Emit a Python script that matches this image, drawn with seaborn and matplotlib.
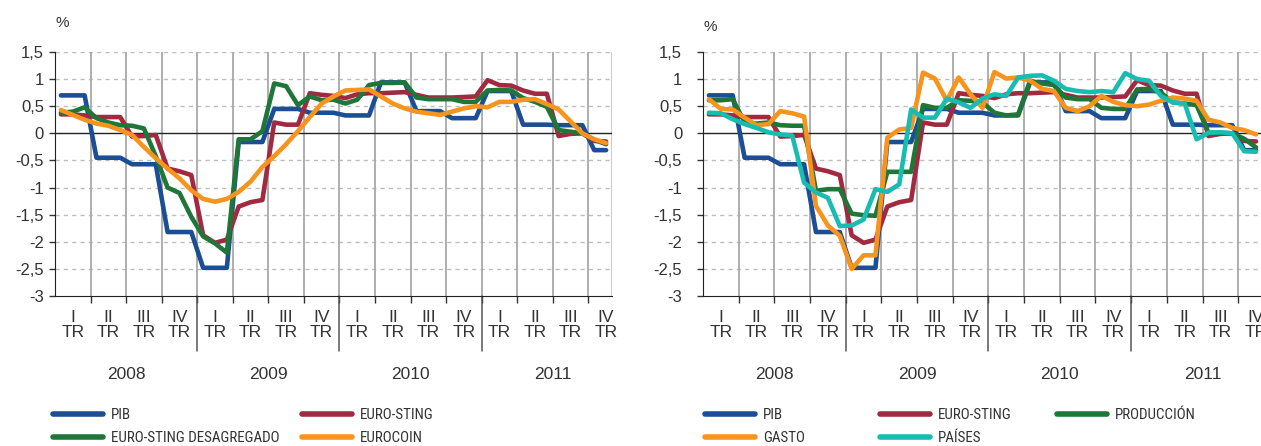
import numpy as np
import pandas as pd
import seaborn as sns
import matplotlib.pyplot as plt
import matplotlib.transforms as mtransforms
from matplotlib import font_manager
from matplotlib.textpath import TextPath

# monthly data, Jan 2008 .. Nov 2011 (47 months)
pib_trim = [0.70, -0.45, -0.57, -1.82, -2.48, -0.16, 0.45, 0.38,
            0.33, 0.94, 0.41, 0.28, 0.78, 0.16, 0.15, -0.31]

euro_sting = [0.35, 0.35, 0.33, 0.30, 0.30, 0.30, -0.06, -0.05, -0.03,
              -0.65, -0.70, -0.77, -1.88, -2.02, -1.96, -1.35, -1.27, -1.23,
              0.20, 0.16, 0.16, 0.74, 0.71, 0.69, 0.65, 0.72, 0.74,
              0.74, 0.75, 0.76, 0.71, 0.66, 0.66, 0.66, 0.67, 0.68,
              0.98, 0.89, 0.88, 0.79, 0.73, 0.73, -0.05, -0.01, 0.00, -0.14, -0.15]

desagregado = [0.38, 0.40, 0.48, 0.28, 0.20, 0.15, 0.14, 0.09, -0.42,
               -1.00, -1.10, -1.54, -1.90, -2.03, -2.20, -0.11, -0.11, 0.04,
               0.92, 0.87, 0.52, 0.68, 0.61, 0.62, 0.55, 0.62, 0.89,
               0.93, 0.93, 0.94, 0.66, 0.63, 0.63, 0.63, 0.58, 0.58,
               0.79, 0.80, 0.79, 0.65, 0.58, 0.49, 0.06, 0.03, 0.00, -0.12, -0.20]

eurocoin = [0.43, 0.34, 0.25, 0.18, 0.14, 0.06, -0.03, -0.25, -0.46,
            -0.65, -0.83, -1.05, -1.21, -1.26, -1.21, -1.08, -0.89, -0.62,
            -0.42, -0.20, 0.04, 0.30, 0.55, 0.68, 0.79, 0.80, 0.81,
            0.68, 0.55, 0.46, 0.40, 0.37, 0.34, 0.40, 0.46, 0.50,
            0.48, 0.58, 0.58, 0.62, 0.63, 0.54, 0.44, 0.22, 0.00, -0.11, -0.18]

produccion = [0.61, 0.61, 0.63, 0.20, 0.18, 0.20, 0.15, 0.14, 0.14,
              -1.06, -1.03, -1.03, -1.48, -1.51, -1.52, -0.71, -0.71, -0.71,
              0.52, 0.47, 0.47, 0.61, 0.60, 0.57, 0.38, 0.33, 0.35,
              0.97, 0.92, 0.89, 0.66, 0.63, 0.63, 0.47, 0.45, 0.45,
              0.81, 0.82, 0.75, 0.57, 0.55, 0.52, 0.01, 0.01, 0.00, -0.10, -0.26]

gasto = [0.63, 0.45, 0.44, 0.29, 0.15, 0.17, 0.41, 0.37, 0.31,
         -1.34, -1.70, -1.89, -2.50, -2.25, -2.25, -0.08, 0.07, 0.10,
         1.12, 1.01, 0.60, 1.03, 0.72, 0.47, 1.13, 1.01, 1.03,
         0.97, 0.82, 0.78, 0.47, 0.41, 0.50, 0.69, 0.58, 0.52,
         0.50, 0.53, 0.60, 0.66, 0.64, 0.60, 0.25, 0.20, 0.10, 0.06, -0.02]

paises = [0.38, 0.37, 0.26, 0.17, 0.10, 0.02, -0.02, -0.04, -0.91,
          -1.09, -1.19, -1.71, -1.70, -1.59, -1.03, -1.08, -0.94, 0.44,
          0.29, 0.29, 0.64, 0.57, 0.47, 0.64, 0.72, 0.69, 1.03,
          1.06, 1.07, 0.97, 0.82, 0.78, 0.76, 0.78, 0.76, 1.11,
          1.00, 0.97, 0.69, 0.57, 0.55, -0.11, 0.01, 0.02, 0.00, -0.33, -0.34]

n_meses = 47
pib = np.repeat(pib_trim, 3)[:n_meses]
meses = np.arange(n_meses)

trimestres = ['I', 'II', 'III', 'IV']
anios = ['2008', '2009', '2010', '2011']
y_ticks = [-3, -2.5, -2, -1.5, -1, -0.5, 0, 0.5, 1, 1.5]

colores = {'PIB': '#1b4e94', 'EURO-STING': '#a12a40',
           'EURO-STING DESAGREGADO': '#1f7638', 'EUROCOIN': '#f7941e',
           'PRODUCCIÓN': '#1f7638', 'GASTO': '#f7941e', 'PAÍSES': '#19bcb1'}

izq = {'PIB': pib, 'EURO-STING': euro_sting,
       'EURO-STING DESAGREGADO': desagregado, 'EUROCOIN': eurocoin}
der = {'PIB': pib, 'EURO-STING': euro_sting, 'PRODUCCIÓN': produccion,
       'GASTO': gasto, 'PAÍSES': paises}

sns.set_style('white')
plt.rcParams['font.family'] = ['Liberation Sans', 'DejaVu Sans']

# legend font: a narrow/condensed sans if one is installed
prefer = ['liberation sans narrow', 'roboto condensed', 'open sans condensed',
          'noto sans', 'open sans', 'roboto', 'lato', 'dejavu sans']


def es_estrecha(f):
    n = f.name.lower()
    fn = f.fname.lower()
    cond = ('narrow' in n or 'condensed' in n or 'condensed' in fn
            or str(f.stretch) in ('condensed', 'semi-condensed'))
    w = str(f.weight).lower()
    normal = w in ('400', 'normal', 'regular', 'book') and f.style == 'normal'
    bad = any(k in fn for k in ['bold', 'light', 'thin', 'medium', 'black', 'semi', 'extra', 'italic'])
    return cond and normal and not bad


cands = [f for f in font_manager.fontManager.ttflist if es_estrecha(f)]


def rango(f):
    n = f.name.lower()
    for i, p in enumerate(prefer):
        if n.startswith(p):
            return i
    return 99


cands.sort(key=rango)
if cands:
    fp_leg = font_manager.FontProperties(fname=cands[0].fname)
else:
    fp_leg = font_manager.FontProperties(family='Liberation Sans')
ancho = TextPath((0, 0), 'EURO-STING DESAGREGADO', size=10, prop=fp_leg).get_extents().width
tam_leg = float(np.clip(10 * (168 * 0.72) / ancho, 8, 11))
fp_leg.set_size(tam_leg)

W, H = 1261, 446
fig = plt.figure(figsize=(W / 100, H / 100), dpi=100)
ax1 = fig.add_axes([55 / W, 150 / H, 557 / W, 244 / H])
ax2 = fig.add_axes([703 / W, 150 / H, 559 / W, 244 / H])


def fmt(v):
    return ('%g' % v).replace('.', ',')


def dibujar(ax, series, ypad, borde_der):
    df = pd.concat([pd.DataFrame({'mes': meses, 'valor': v, 'serie': k})
                    for k, v in series.items()])
    sns.lineplot(data=df, x='mes', y='valor', hue='serie', hue_order=list(series),
                 palette=colores, linewidth=3.3, legend=False, ax=ax)
    lineas = list(ax.lines)
    for l in lineas:
        l.set_zorder(5)
    ax.set_xlim(-0.5, 46.5)
    ax.set_ylim(-3, 1.5)
    ax.set_xlabel('')
    ax.set_ylabel('')
    ax.set_yticks(y_ticks)
    ax.set_yticklabels([fmt(v) for v in y_ticks], fontsize=12, color='#333333')
    ax.tick_params(axis='y', length=4, width=1, color='#333333', pad=ypad, left=True)
    for v in y_ticks[1:]:
        if v != 0:
            ax.axhline(v, color='#bdbdbd', lw=1, ls=(0, (3, 3)), zorder=1)
    ax.axhline(0, color='#222222', lw=1, zorder=2)

    centros = np.arange(1, 48, 3)
    ax.set_xticks(centros)
    ax.set_xticklabels([f'{trimestres[i % 4]}\nTR' for i in range(16)],
                       fontsize=12.5, color='#333333', linespacing=1.05)
    ax.tick_params(axis='x', length=0, pad=10)
    limites = np.arange(2.5, 46, 3)
    ax.set_xticks(limites, minor=True)
    ax.tick_params(axis='x', which='minor', length=5, width=1, color='#333333', bottom=True)
    for b in limites:
        ax.axvline(b, color='#a8a8a8', lw=1.3, zorder=1)
    for b in [11.5, 23.5, 35.5]:
        ax.axvline(b, ymin=-0.225, ymax=0, color='#555555', lw=1.1, clip_on=False)
    tr = mtransforms.blended_transform_factory(ax.transData, ax.transAxes)
    for i, a in enumerate(anios):
        ax.text(5.5 + 12 * i, -0.322, a, transform=tr, ha='center', va='center',
                fontsize=12.5, color='#333333')

    for s in ['top', 'right']:
        ax.spines[s].set_visible(False)
    ax.spines['left'].set_color('#222222')
    ax.spines['bottom'].set_color('#222222')
    if borde_der:
        ax.axvline(46.5, color='#c8c8c8', lw=2, zorder=1)
    return lineas


l1 = dibujar(ax1, izq, 4, True)
l2 = dibujar(ax2, der, 11, False)

fig.text(55 / W, 1 - 23 / H, '%', fontsize=11, va='center', color='#333333')
fig.text(703 / W, 1 - 27 / H, '%', fontsize=11, va='center', color='#333333')

leg_kw = dict(loc='upper left', frameon=False, borderpad=0, borderaxespad=0,
              handlelength=50 / (tam_leg * 100 / 72), handletextpad=8 / (tam_leg * 100 / 72),
              labelspacing=0.6, prop=fp_leg)
y_top = 1 - 408 / H


def leyenda(handles, x):
    lg = fig.legend(handles=handles, labels=[h.get_label() for h in handles],
                    bbox_to_anchor=(x / W, y_top), **leg_kw)
    for h in lg.legend_handles:
        h.set_linewidth(4)
    for t in lg.get_texts():
        t.set_color('#333333')


for l, k in zip(l1, izq):
    l.set_label(k)
for l, k in zip(l2, der):
    l.set_label(k)

leyenda([l1[0], l1[2]], 53)
leyenda([l1[1], l1[3]], 302)
leyenda([l2[0], l2[3]], 705)
leyenda([l2[1], l2[4]], 880)
leyenda([l2[2]], 1057)

fig.savefig('out.png', dpi=100)
